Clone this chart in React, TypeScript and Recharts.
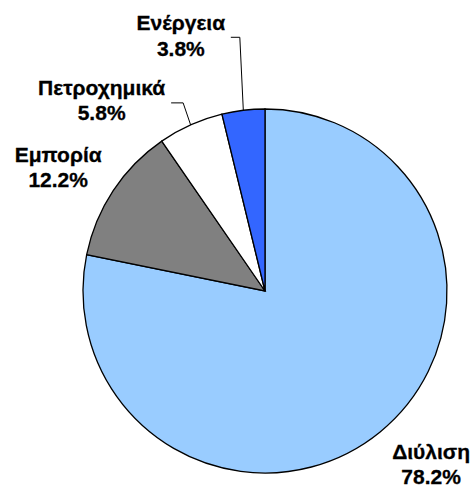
import { Cell, Pie, PieChart } from 'recharts';

const sectors = ['Διύλιση', 'Εμπορία', 'Πετροχημικά', 'Ενέργεια'];
const shares = [78.2, 12.2, 5.8, 3.8];
const colors = ['#99CCFF', '#808080', '#FFFFFF', '#3366FF'];

// label placement relative to the point where the slice's mid angle meets the rim
const labelLayout = [
  { dx: 51, dy: 27, leader: null },
  { dx: -55, dy: -29, leader: null },
  { dx: -89, dy: -30, leader: [[-7.5, -22], [-19.5, -22]] },
  { dx: -62.5, dy: -80, leader: [[-3.5, -73], [-12.5, -73]] },
];

const data = sectors.map((name, i) => ({ name, value: shares[i] }));

const RAD = Math.PI / 180;

function renderLabel(props: any) {
  const { cx, cy, midAngle, outerRadius, index, name, value } = props;
  const ax = cx + outerRadius * Math.cos(-midAngle * RAD);
  const ay = cy + outerRadius * Math.sin(-midAngle * RAD);
  const lay = labelLayout[index];
  const tx = ax + lay.dx;
  const ty = ay + lay.dy;
  return (
    <g>
      {lay.leader && (
        <polyline
          points={[[0, 0], ...lay.leader].map(([x, y]) => `${ax + x},${ay + y}`).join(' ')}
          fill="none"
          stroke="#000"
          strokeWidth={1}
        />
      )}
      <text
        x={tx}
        y={ty}
        textAnchor="middle"
        fill="#000"
        stroke="#000"
        strokeWidth={0.3}
        style={{ fontFamily: "'Liberation Sans', Arial, sans-serif", fontWeight: 700, fontSize: 21 }}
      >
        <tspan x={tx}>{name}</tspan>
        <tspan x={tx} dy={25.5}>{value.toFixed(1)}%</tspan>
      </text>
    </g>
  );
}

export default function App() {
  return (
    <div style={{ position: 'absolute', left: 0, top: 0, width: 472, height: 488, background: '#fff' }}>
      <PieChart width={472} height={488} margin={{ top: 0, right: 0, bottom: 0, left: 0 }}>
        <Pie
          data={data}
          dataKey="value"
          nameKey="name"
          cx={265}
          cy={291}
          outerRadius={182}
          startAngle={90}
          endAngle={-270}
          stroke="#000"
          strokeWidth={1.3}
          label={renderLabel}
          labelLine={false}
          isAnimationActive={false}
        >
          {data.map((d, i) => (
            <Cell key={d.name} fill={colors[i]} />
          ))}
        </Pie>
      </PieChart>
    </div>
  );
}
